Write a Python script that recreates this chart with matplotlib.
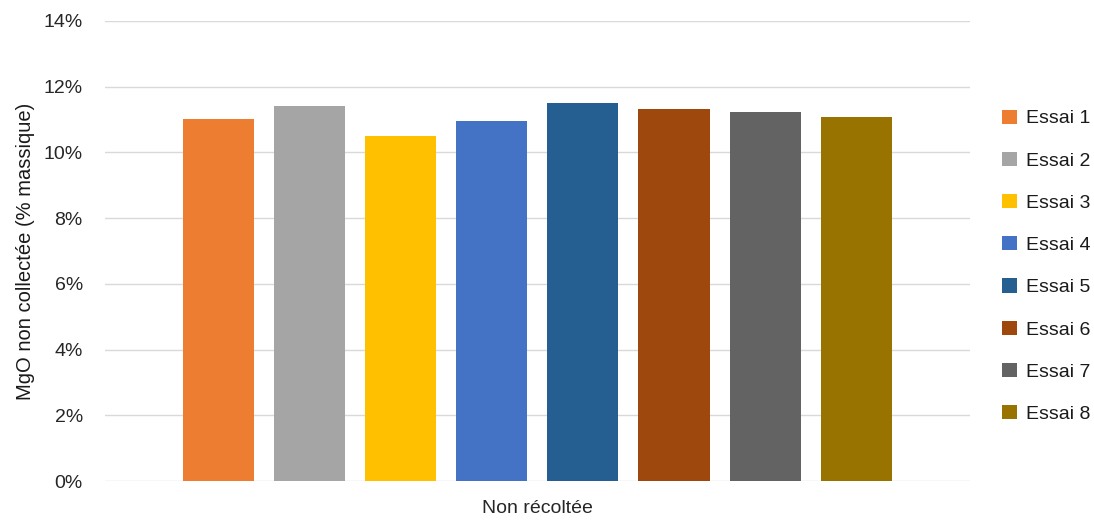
import matplotlib.pyplot as plt
from matplotlib.ticker import PercentFormatter

plt.rcParams['font.family'] = ['Liberation Sans', 'DejaVu Sans']

series = ["Essai 1", "Essai 2", "Essai 3", "Essai 4", "Essai 5", "Essai 6", "Essai 7", "Essai 8"]
values = [11.01, 11.42, 10.50, 10.96, 11.51, 11.32, 11.23, 11.08]
colors = ["#ED7D31", "#A5A5A5", "#FFC000", "#4472C4", "#255E91", "#9E480E", "#636363", "#997300"]
category = "Non récoltée"

fig = plt.figure(figsize=(10.94, 5.2), dpi=100)
ax = fig.add_axes([0.096, 0.075, 0.791, 0.885])

for i, (name, v, c) in enumerate(zip(series, values, colors)):
    ax.bar(i, v, width=0.78, color=c, label=name, zorder=3)

ax.set_ylim(0, 14)
ax.set_yticks(range(0, 15, 2))
ax.yaxis.set_major_formatter(PercentFormatter(decimals=0))
ax.set_xlim(-1.24, 8.25)
ax.set_xticks([(len(series) - 1) / 2])
ax.set_xticklabels([category])
ax.grid(axis='y', color='#D9D9D9', linewidth=1, zorder=0)
for s in ax.spines.values():
    s.set_visible(False)
ax.tick_params(length=0, labelsize=14, colors='#262626')
ax.tick_params(axis='y', pad=16)
ax.tick_params(axis='x', pad=14)
ax.set_ylabel("MgO non collectée (% massique)", fontsize=14.5, color='#1a1a1a', labelpad=6)

ax.legend(loc='center left', bbox_to_anchor=(0.909, 0.488), bbox_transform=fig.transFigure,
          frameon=False, fontsize=14, handlelength=0.75, handleheight=0.75,
          labelspacing=1.25, handletextpad=0.45, labelcolor='#1a1a1a', borderaxespad=0)

fig.savefig("out.png", dpi=100)
